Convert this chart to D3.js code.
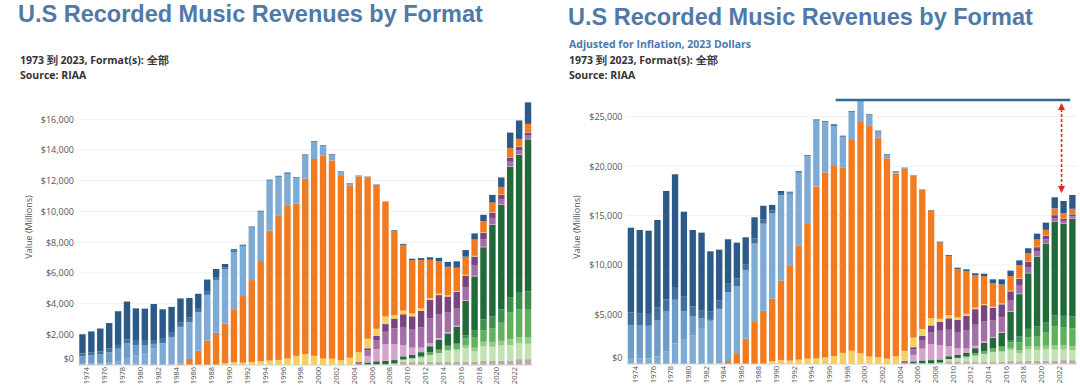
<!DOCTYPE html>
<meta charset="utf-8">
<style>
    body { margin: 0; background: #fff; }
    svg text { font-family: "Open Sans", "Noto Sans", sans-serif; }
    .title { font-family: "Liberation Sans", Arial, sans-serif; font-weight: bold; font-size: 23.5px; fill: #5079a8; }
    .sub { font-size: 10.5px; font-weight: bold; fill: #333; }
    .sub.blue { fill: #4b79ad; }
    .axis text { font-size: 9px; fill: #555; }
    .axis path { display: none; }
    .xaxis text { font-size: 7.5px; fill: #555; }
    .ytitle { font-size: 9px; fill: #555; }
</style>
<svg id="chart" width="1080" height="387"></svg>
<script src="https://cdn.jsdelivr.net/npm/d3@7"></script>
<script>
    // 1973 .. 2023, nominal $ millions
    var years = d3.range(1973, 2024);

    var lpEp = [1246, 1356, 1485, 1663, 2195, 2473, 2060, 2100, 2342, 1925, 1689, 1549, 1281, 983, 793, 532, 220, 87, 29, 14,
        11, 18, 25, 37, 33, 34, 32, 28, 27, 21, 22, 19, 14, 16, 23, 57, 63, 89, 119, 163,
        210, 315, 416, 431, 396, 420, 498, 620, 1000, 1200, 1400];
    var vinylSingle = [190, 194, 211, 245, 245, 260, 354, 269, 256, 283, 269, 299, 281, 228, 203, 180, 116, 94, 64, 66,
        51, 47, 47, 48, 36, 26, 28, 26, 31, 25, 22, 20, 13, 11, 4, 3, 3, 2, 5, 5,
        5, 6, 6, 6, 7, 6, 6, 7, 7, 6, 6];
    var eightTrack = [489, 549, 583, 678, 811, 948, 669, 526, 309, 36, 0, 0, 0, 0, 0, 0, 0, 0, 0, 0,
        0, 0, 0, 0, 0, 0, 0, 0, 0, 0, 0, 0, 0, 0, 0, 0, 0, 0, 0, 0,
        0, 0, 0, 0, 0, 0, 0, 0, 0, 0, 0];
    var cassette = [76, 87, 99, 146, 250, 450, 604, 776, 1063, 1385, 1811, 2384, 2412, 2500, 2974, 3442, 3540, 3730, 3250, 3415,
        3214, 3251, 2540, 2094, 1656, 1514, 1110, 631, 358, 210, 108, 24, 13, 4, 0, 0, 0, 0, 0, 0,
        0, 0, 0, 0, 0, 0, 0, 0, 0, 0, 0];
    var cd = [0, 0, 0, 0, 0, 0, 0, 0, 0, 0, 17, 103, 390, 930, 1594, 2090, 2588, 3452, 4338, 5327,
        6511, 8465, 9377, 9935, 9915, 11416, 12816, 13215, 12909, 12044, 11233, 11447, 10520, 9373, 7452, 5471, 4274, 3480, 3150, 2486,
        2123, 1854, 1510, 1174, 1057, 698, 615, 483, 584, 483, 537];
    var otherPhysical = [0, 0, 0, 0, 0, 0, 0, 0, 0, 0, 0, 0, 0, 0, 0, 10, 115, 178, 153, 202,
        259, 287, 331, 420, 597, 721, 599, 425, 410, 317, 469, 637, 623, 465, 497, 223, 240, 178, 160, 120,
        90, 75, 60, 45, 45, 35, 30, 25, 25, 25, 20];
    var ringtones = [0, 0, 0, 0, 0, 0, 0, 0, 0, 0, 0, 0, 0, 0, 0, 0, 0, 0, 0, 0,
        0, 0, 0, 0, 0, 0, 0, 0, 0, 0, 0, 0, 422, 795, 1085, 1030, 742, 480, 300, 190,
        120, 85, 70, 55, 40, 35, 30, 30, 30, 30, 30];
    var downloadSingle = [0, 0, 0, 0, 0, 0, 0, 0, 0, 0, 0, 0, 0, 0, 0, 0, 0, 0, 0, 0,
        0, 0, 0, 0, 0, 0, 0, 0, 0, 0, 0, 138, 363, 581, 811, 1033, 1172, 1169, 1321, 1623,
        1570, 1300, 1150, 850, 660, 490, 420, 330, 290, 250, 210];
    var downloadAlbum = [0, 0, 0, 0, 0, 0, 0, 0, 0, 0, 0, 0, 0, 0, 0, 0, 0, 0, 0, 0,
        0, 0, 0, 0, 0, 0, 0, 0, 0, 0, 0, 46, 136, 276, 498, 635, 829, 872, 1071, 1205,
        1233, 1020, 1050, 750, 590, 430, 350, 300, 280, 230, 200];
    var paidSub = [0, 0, 0, 0, 0, 0, 0, 0, 0, 0, 0, 0, 0, 0, 0, 0, 0, 0, 0, 0,
        0, 0, 0, 0, 0, 0, 0, 0, 0, 0, 0, 0, 149, 206, 234, 221, 207, 212, 248, 400,
        628, 800, 1100, 2250, 3500, 4700, 5950, 6800, 8500, 9000, 9900];
    var limitedTier = [0, 0, 0, 0, 0, 0, 0, 0, 0, 0, 0, 0, 0, 0, 0, 0, 0, 0, 0, 0,
        0, 0, 0, 0, 0, 0, 0, 0, 0, 0, 0, 0, 0, 0, 0, 0, 0, 0, 0, 0,
        0, 0, 0, 190, 480, 700, 800, 870, 980, 1090, 1200];
    var adSupported = [0, 0, 0, 0, 0, 0, 0, 0, 0, 0, 0, 0, 0, 0, 0, 0, 0, 0, 0, 0,
        0, 0, 0, 0, 0, 0, 0, 0, 0, 0, 0, 0, 0, 0, 0, 0, 0, 0, 100, 170,
        220, 295, 385, 470, 660, 760, 910, 1180, 1760, 1800, 1810];
    var otherAd = [0, 0, 0, 0, 0, 0, 0, 0, 0, 0, 0, 0, 0, 0, 0, 0, 0, 0, 0, 0,
        0, 0, 0, 0, 0, 0, 0, 0, 0, 0, 0, 0, 0, 0, 0, 0, 0, 0, 0, 0,
        0, 0, 0, 150, 250, 270, 280, 300, 380, 400, 410];
    var soundExchange = [0, 0, 0, 0, 0, 0, 0, 0, 0, 0, 0, 0, 0, 0, 0, 0, 0, 0, 0, 0,
        0, 0, 0, 0, 0, 0, 0, 0, 0, 0, 0, 7, 20, 33, 36, 100, 155, 249, 292, 462,
        590, 773, 803, 884, 652, 953, 908, 1000, 1000, 1030, 1000];
    var sync = [0, 0, 0, 0, 0, 0, 0, 0, 0, 0, 0, 0, 0, 0, 0, 0, 0, 0, 0, 0,
        0, 0, 0, 0, 0, 0, 0, 0, 0, 0, 0, 0, 0, 0, 0, 0, 200, 190, 196, 190,
        190, 190, 200, 230, 230, 285, 280, 270, 300, 380, 380];

    // bar totals in 2023 dollars
    var adjustedTotals = [13780, 13550, 13480, 14560, 17490, 19180, 15400, 13550, 13280, 11390, 11560, 12610, 12270, 12810, 14830, 16000, 16080, 17490, 17420, 19510,
        21130, 24740, 24570, 24230, 23080, 25580, 26690, 25280, 23590, 21230, 19510, 19850, 19110, 17660, 15570, 12370, 11020, 9740, 9570, 9170,
        9130, 8560, 8560, 9440, 10480, 11700, 13180, 14290, 16850, 16480, 17090];

    var yTicksLeft = [0, 2000, 4000, 6000, 8000, 10000, 12000, 14000, 16000];
    var yTicksRight = [0, 5000, 10000, 15000, 20000, 25000];
    var xTickYears = d3.range(1974, 2023, 2);

    // stack order, bottom to top
    var formats = [
        { key: "sync", values: sync, color: "#b8aca3" },
        { key: "soundExchange", values: soundExchange, color: "#c2e2b1" },
        { key: "otherAd", values: otherAd, color: "#92cc82" },
        { key: "adSupported", values: adSupported, color: "#62b15f" },
        { key: "limitedTier", values: limitedTier, color: "#3c8f4d" },
        { key: "paidSub", values: paidSub, color: "#216a3a" },
        { key: "ringtones", values: ringtones, color: "#d6a3cf" },
        { key: "downloadSingle", values: downloadSingle, color: "#a36da6" },
        { key: "downloadAlbum", values: downloadAlbum, color: "#7a4382" },
        { key: "otherPhysical", values: otherPhysical, color: "#f5cf5f" },
        { key: "cd", values: cd, color: "#f27b20" },
        { key: "cassette", values: cassette, color: "#7eabd6" },
        { key: "eightTrack", values: eightTrack, color: "#6c9cca" },
        { key: "vinylSingle", values: vinylSingle, color: "#42719f" },
        { key: "lpEp", values: lpEp, color: "#2c5a88" }
    ];
    var keys = formats.map(function (f) { return f.key; });
    var colorOf = {};
    formats.forEach(function (f) { colorOf[f.key] = f.color; });

    var nominalRows = years.map(function (yr, i) {
        var row = { year: yr };
        formats.forEach(function (f) { row[f.key] = f.values[i]; });
        return row;
    });
    // same format mix, scaled to the inflation-adjusted bar total
    var adjustedRows = nominalRows.map(function (r, i) {
        var total = d3.sum(keys, function (k) { return r[k]; });
        var row = { year: r.year };
        keys.forEach(function (k) { row[k] = r[k] * adjustedTotals[i] / total; });
        return row;
    });

    var svg = d3.select("#chart");

    function drawPanel(o) {
        var g = svg.append("g");

        var x = d3.scaleBand()
            .domain(years)
            .range(o.xRange)
            .paddingInner(0.28)
            .paddingOuter(0.14);
        var y = d3.scaleLinear()
            .domain([0, o.yTicks[o.yTicks.length - 1]])
            .range(o.yRange);

        g.selectAll(".grid")
            .data(o.yTicks.slice(1))
            .enter().append("line")
            .attr("x1", o.xRange[0]).attr("x2", o.xRange[1])
            .attr("y1", function (d) { return y(d); })
            .attr("y2", function (d) { return y(d); })
            .attr("stroke", "#f0f0f0");

        var yAxis = g.append("g")
            .attr("class", "axis")
            .attr("transform", "translate(" + o.xRange[0] + ",0)")
            .call(d3.axisLeft(y).tickValues(o.yTicks).tickFormat(d3.format("$,")).tickSize(0).tickPadding(4));
        yAxis.selectAll(".tick").filter(function (d) { return d === 0; })
            .select("text").attr("y", -6);

        g.append("text")
            .attr("class", "ytitle")
            .attr("transform", "translate(" + o.yTitleX + "," + o.yTitleY + ") rotate(-90)")
            .attr("text-anchor", "middle")
            .text("Value (Millions)");

        var layers = d3.stack().keys(keys)(o.rows);
        g.selectAll(".layer")
            .data(layers)
            .enter().append("g")
            .attr("fill", function (d) { return colorOf[d.key]; })
            .selectAll("rect")
            .data(function (d) { return d; })
            .enter().append("rect")
            .attr("x", function (d) { return x(d.data.year); })
            .attr("width", x.bandwidth())
            .attr("y", function (d) { return y(d[1]); })
            .attr("height", function (d) { return Math.max(0, y(d[0]) - y(d[1])); });

        g.append("line")
            .attr("x1", o.xRange[0]).attr("x2", o.xRange[1])
            .attr("y1", y(0)).attr("y2", y(0))
            .attr("stroke", "#d0d0d0");

        var xAxis = g.append("g")
            .attr("class", "axis xaxis")
            .attr("transform", "translate(0," + y(0) + ")")
            .call(d3.axisBottom(x).tickValues(xTickYears).tickSize(0));
        xAxis.selectAll("text")
            .attr("transform", "rotate(-90)")
            .attr("x", -2)
            .attr("y", -4.5)
            .attr("dy", "0.35em")
            .style("text-anchor", "end");

        return { x: x, y: y, g: g };
    }

    // titles
    svg.append("text").attr("class", "title").attr("x", 18).attr("y", 22)
        .text("U.S Recorded Music Revenues by Format");
    svg.append("text").attr("class", "sub").attr("x", 20).attr("y", 64)
        .text("1973 到 2023, Format(s): 全部");
    svg.append("text").attr("class", "sub").attr("x", 20).attr("y", 79)
        .text("Source: RIAA");

    svg.append("text").attr("class", "title").attr("x", 568).attr("y", 25)
        .text("U.S Recorded Music Revenues by Format");
    svg.append("text").attr("class", "sub blue").attr("x", 569).attr("y", 48)
        .text("Adjusted for Inflation, 2023 Dollars");
    svg.append("text").attr("class", "sub").attr("x", 569).attr("y", 64)
        .text("1973 到 2023, Format(s): 全部");
    svg.append("text").attr("class", "sub").attr("x", 569).attr("y", 79)
        .text("Source: RIAA");

    drawPanel({
        rows: nominalRows,
        xRange: [78, 532.5],
        yRange: [365, 119.3],
        yTicks: yTicksLeft,
        yTitleX: 32, yTitleY: 227
    });

    var right = drawPanel({
        rows: adjustedRows,
        xRange: [626.5, 1076.8],
        yRange: [364, 116.7],
        yTicks: yTicksRight,
        yTitleX: 580, yTitleY: 227
    });

    // peak marker and the gap down to 2022
    var peak = d3.max(adjustedTotals);
    var xr = right.x, yr = right.y;
    right.g.append("line")
        .attr("x1", xr(1997) - 4).attr("x2", xr(2023) + 1)
        .attr("y1", yr(peak)).attr("y2", yr(peak))
        .attr("stroke", "#2f6b99").attr("stroke-width", 2.5);

    var ax = xr(2022) + xr.bandwidth() / 2 - 2;
    var yTop = yr(peak) + 3, yBot = yr(adjustedTotals[years.indexOf(2022)]) - 8;
    right.g.append("line")
        .attr("x1", ax).attr("x2", ax)
        .attr("y1", yTop + 6).attr("y2", yBot - 6)
        .attr("stroke", "#e8261f").attr("stroke-width", 1.6)
        .attr("stroke-dasharray", "3,2");
    right.g.append("path")
        .attr("d", "M" + ax + "," + yTop + "l-3.5,7h7z")
        .attr("fill", "#e8261f");
    right.g.append("path")
        .attr("d", "M" + ax + "," + yBot + "l-3.5,-7h7z")
        .attr("fill", "#e8261f");
</script>
